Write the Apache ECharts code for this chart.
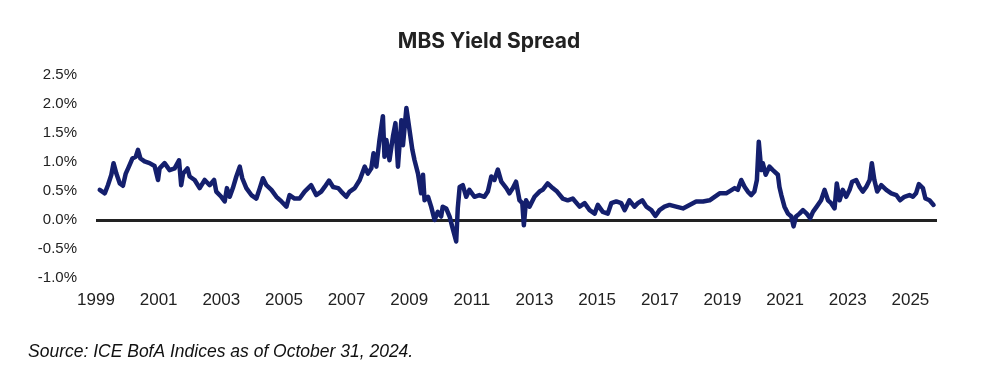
<!DOCTYPE html>
<html>
<head>
<meta charset="utf-8">
<script src="https://cdn.jsdelivr.net/npm/echarts@6/dist/echarts.min.js"></script>
<style>
html,body{margin:0;padding:0;background:#fff;}
#chart{width:992px;height:390px;}
</style>
</head>
<body>
<div id="chart"></div>
<script>
const chartTitle = "MBS Yield Spread";
const sourceNote = "Source: ICE BofA Indices as of October 31, 2024.";
const yTicks = [-1.0, -0.5, 0.0, 0.5, 1.0, 1.5, 2.0, 2.5];
const xTickYears = [1999, 2001, 2003, 2005, 2007, 2009, 2011, 2013, 2015, 2017, 2019, 2021, 2023, 2025];

// decimal year of each observation
const dates = [
 1999.12,1999.28,1999.38,1999.49,1999.56,1999.65,1999.76,1999.86,1999.95,2000.05,
 2000.16,2000.27,2000.34,2000.42,2000.55,2000.71,2000.87,2000.98,2001.03,2001.19,
 2001.35,2001.51,2001.65,2001.72,2001.78,2001.92,2001.99,2002.15,2002.31,2002.47,
 2002.63,2002.77,2002.84,2003.00,2003.11,2003.18,2003.27,2003.37,2003.48,2003.59,
 2003.67,2003.80,2003.96,2004.12,2004.23,2004.33,2004.44,2004.60,2004.76,2004.92,
 2005.08,2005.18,2005.34,2005.50,2005.66,2005.87,2006.03,2006.19,2006.30,2006.44,
 2006.57,2006.73,2006.83,2006.99,2007.10,2007.26,2007.42,2007.58,2007.68,2007.79,
 2007.86,2007.95,2008.05,2008.16,2008.21,2008.27,2008.37,2008.48,2008.56,2008.64,
 2008.75,2008.80,2008.91,2009.01,2009.10,2009.17,2009.28,2009.38,2009.44,2009.49,
 2009.60,2009.70,2009.81,2009.91,2010.02,2010.07,2010.18,2010.29,2010.37,2010.50,
 2010.55,2010.61,2010.71,2010.82,2010.92,2011.08,2011.24,2011.40,2011.51,2011.62,
 2011.72,2011.83,2011.94,2012.10,2012.20,2012.31,2012.41,2012.52,2012.61,2012.66,
 2012.73,2012.84,2013.00,2013.16,2013.26,2013.42,2013.58,2013.72,2013.90,2014.06,
 2014.22,2014.44,2014.60,2014.76,2014.92,2015.02,2015.18,2015.34,2015.45,2015.61,
 2015.77,2015.88,2016.03,2016.19,2016.30,2016.44,2016.57,2016.73,2016.86,2016.99,
 2017.15,2017.31,2017.52,2017.74,2017.95,2018.16,2018.38,2018.59,2018.75,2018.91,
 2019.12,2019.39,2019.49,2019.60,2019.71,2019.81,2019.92,2020.02,2020.10,2020.16,
 2020.24,2020.29,2020.38,2020.50,2020.61,2020.77,2020.82,2020.88,2020.98,2021.09,
 2021.20,2021.27,2021.35,2021.46,2021.57,2021.69,2021.80,2021.89,2022.01,2022.15,
 2022.26,2022.37,2022.47,2022.58,2022.65,2022.74,2022.84,2022.95,2023.06,2023.14,
 2023.27,2023.38,2023.48,2023.59,2023.70,2023.77,2023.85,2023.94,2024.07,2024.23,
 2024.39,2024.55,2024.67,2024.81,2024.97,2025.08,2025.18,2025.27,2025.40,2025.48,
 2025.61,2025.74
];

// MBS yield spread, percent
const spread = [
 0.52,0.46,0.60,0.78,0.98,0.80,0.63,0.59,0.80,0.92,
 1.06,1.09,1.21,1.06,1.01,0.98,0.93,0.69,0.89,0.98,
 0.86,0.89,1.03,0.60,0.80,0.89,0.75,0.69,0.55,0.69,
 0.60,0.69,0.49,0.40,0.32,0.55,0.40,0.55,0.75,0.92,
 0.72,0.55,0.43,0.37,0.55,0.72,0.60,0.52,0.40,0.32,
 0.23,0.43,0.37,0.37,0.49,0.60,0.43,0.49,0.57,0.68,
 0.57,0.55,0.49,0.40,0.49,0.55,0.69,0.92,0.80,0.89,
 1.15,0.92,1.38,1.79,1.09,1.38,1.03,1.44,1.67,0.92,
 1.72,1.29,1.93,1.55,1.21,1.03,0.80,0.46,0.78,0.34,
 0.40,0.23,0.00,0.14,0.06,0.23,0.20,0.06,-0.11,-0.37,
 0.20,0.57,0.60,0.40,0.52,0.40,0.43,0.40,0.49,0.75,
 0.69,0.87,0.66,0.55,0.46,0.55,0.66,0.34,0.29,-0.09,
 0.34,0.23,0.40,0.49,0.52,0.63,0.55,0.49,0.37,0.34,
 0.37,0.23,0.29,0.17,0.11,0.26,0.14,0.11,0.29,0.32,
 0.29,0.17,0.34,0.23,0.29,0.34,0.23,0.17,0.07,0.17,
 0.23,0.26,0.23,0.20,0.26,0.32,0.32,0.34,0.40,0.46,
 0.46,0.55,0.52,0.69,0.57,0.49,0.43,0.49,0.69,1.35,
 0.86,0.98,0.78,0.92,0.86,0.78,0.57,0.43,0.23,0.11,
 0.06,-0.11,0.06,0.11,0.17,0.11,0.03,0.14,0.23,0.34,
 0.52,0.34,0.29,0.20,0.63,0.34,0.52,0.40,0.52,0.66,
 0.69,0.57,0.49,0.57,0.69,0.98,0.69,0.49,0.60,0.52,
 0.46,0.43,0.34,0.40,0.43,0.40,0.46,0.62,0.55,0.37,
 0.34,0.26
];

const baseYear = xTickYears[0];
const seriesData = dates.map((d, i) => [d - baseYear, spread[i]]);

const chart = echarts.init(document.getElementById('chart'), null, {renderer: 'canvas'});
chart.setOption({
  animation: false,
  backgroundColor: '#ffffff',
  grid: {left: 96, right: 55, top: 75, bottom: 112, containLabel: false},
  xAxis: {
    type: 'value',
    min: 0,
    max: 26.85,
    interval: 2,
    axisLine: {show: false},
    axisTick: {show: false},
    splitLine: {show: false},
    axisLabel: {
      showMaxLabel: false,
      margin: 14,
      color: '#222',
      fontFamily: 'Liberation Sans, Arial, sans-serif',
      fontSize: 17,
      formatter: v => {
        const y = Math.round(v + baseYear);
        return xTickYears.indexOf(y) >= 0 ? String(y) : '';
      }
    }
  },
  yAxis: {
    type: 'value',
    min: yTicks[0],
    max: yTicks[yTicks.length - 1],
    interval: 0.5,
    axisLine: {show: false},
    axisTick: {show: false},
    splitLine: {show: false},
    axisLabel: {
      margin: 19,
      color: '#222',
      fontFamily: 'Liberation Sans, Arial, sans-serif',
      fontSize: 15,
      formatter: v => v.toFixed(1) + '%'
    }
  },
  graphic: [
    {type: 'text', x: 489, y: 42, style: {text: chartTitle, textAlign: 'center', textVerticalAlign: 'middle',
      fill: '#222', font: 'bold 21px Inter, "Open Sans", sans-serif'}},
    {type: 'text', x: 28, y: 352, style: {text: sourceNote, textAlign: 'left', textVerticalAlign: 'middle',
      fill: '#111', font: 'italic 17.5px "Liberation Sans", Arial, sans-serif'}}
  ],
  series: [{
    type: 'line',
    data: seriesData,
    showSymbol: false,
    symbol: 'none',
    lineStyle: {color: '#141f6d', width: 4.5, join: 'round', cap: 'round'},
    z: 3,
    markLine: {
      silent: true,
      symbol: 'none',
      label: {show: false},
      lineStyle: {color: '#222', width: 3, type: 'solid'},
      data: [{yAxis: 0}],
      z: 2
    }
  }]
});
</script>
</body>
</html>
